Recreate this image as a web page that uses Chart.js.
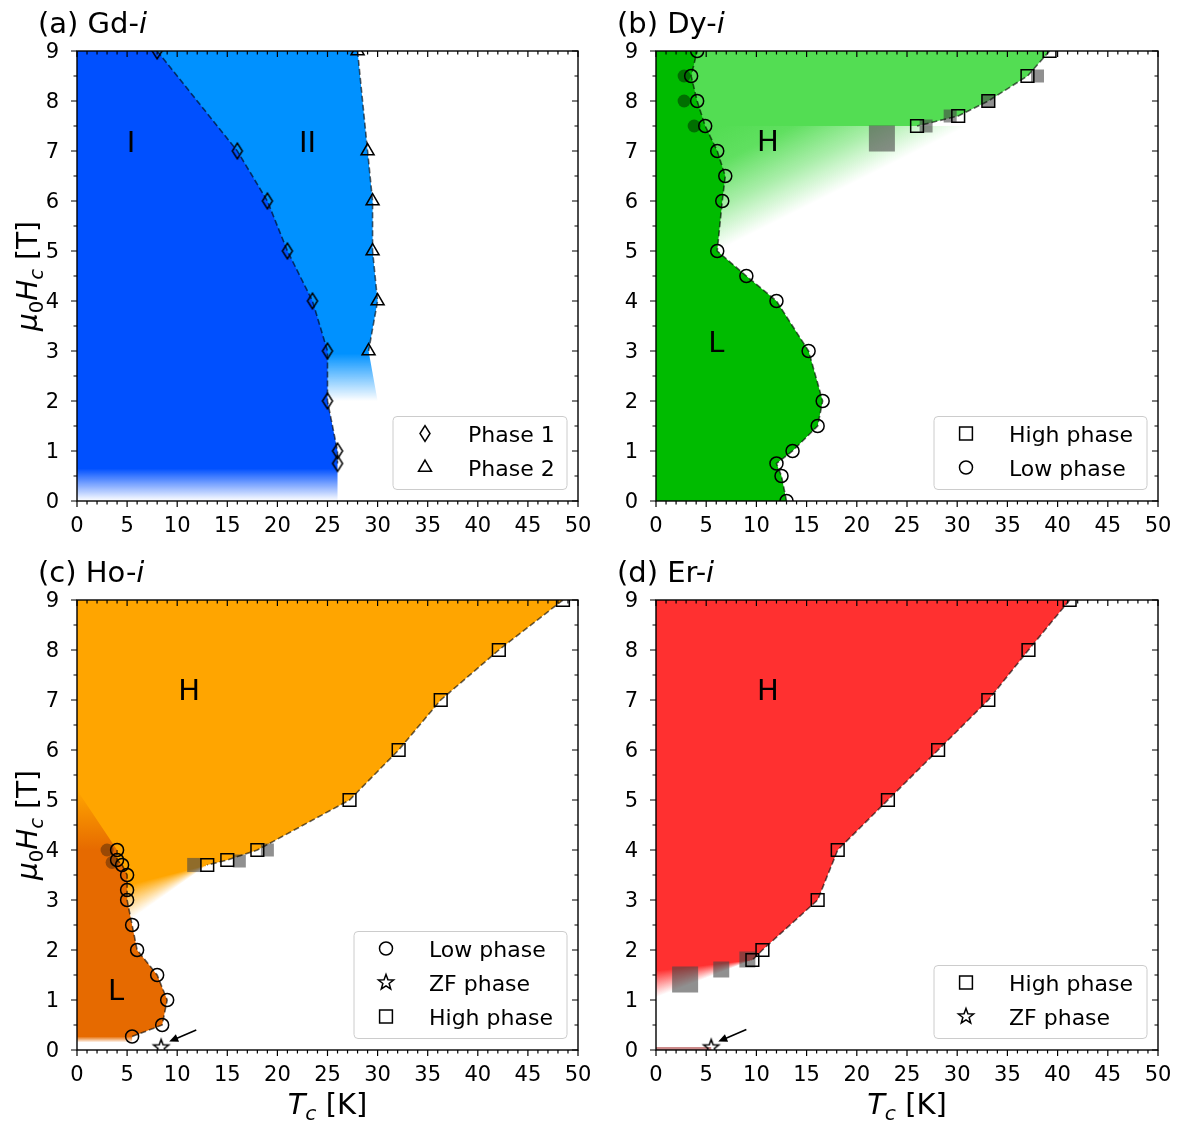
<!DOCTYPE html>
<html>
<head>
<meta charset="utf-8">
<title>Phase diagrams</title>
<script src="https://cdn.jsdelivr.net/npm/chart.js@4.4.1/dist/chart.umd.min.js"></script>
<style>
  html, body { margin: 0; padding: 0; background: #fff; }
  #fig { position: relative; width: 1177px; height: 1121px; overflow: hidden; }
  #fig canvas { position: absolute; }
</style>
</head>
<body>
<div id="fig">
  <canvas id="panelA" width="600" height="572" style="left:0px;top:0px"></canvas>
  <canvas id="panelB" width="598" height="572" style="left:579px;top:0px"></canvas>
  <canvas id="panelC" width="600" height="572" style="left:0px;top:549px"></canvas>
  <canvas id="panelD" width="598" height="572" style="left:579px;top:549px"></canvas>
</div>
<script>
const FONT = '"DejaVu Sans", sans-serif';
Chart.defaults.font.family = FONT;
Chart.defaults.color = '#000';

// ---- (a) Gd-i ----
const gdPhase1T = [8.0, 16.0, 19.0, 21.0, 23.5, 25.0, 25.0, 26.0, 26.0];
const gdPhase1H = [9, 7, 6, 5, 4, 3, 2, 1, 0.75];
const gdPhase2T = [28.0, 29.0, 29.5, 29.5, 30.0, 29.1];
const gdPhase2H = [9, 7, 6, 5, 4, 3];
const gdRegion1TailT = [26.0];
const gdRegion1TailH = [0];
const gdRegion2TailT = [30.0];
const gdRegion2TailH = [2.0];

// ---- (b) Dy-i ----
const dyLowT = [13.0, 12.5, 12.0, 13.6, 16.1, 16.6, 15.2, 12.0, 9.0, 6.1, 6.6, 6.9, 6.1, 4.9, 4.1, 3.5, 4.1];
const dyLowH = [0, 0.5, 0.75, 1, 1.5, 2, 3, 4, 4.5, 5, 6, 6.5, 7, 7.5, 8, 8.5, 9];
const dyHighT = [39.2, 37.0, 33.1, 30.1, 26.0];
const dyHighH = [9, 8.5, 8.0, 7.7, 7.5];
const dyShadowT = [3.8, 2.8, 2.8];
const dyShadowH = [7.5, 8.0, 8.5];
const dyGhostT = [22.5, 26.9, 29.3, 33.1, 38.0];
const dyGhostH = [7.25, 7.5, 7.7, 8.0, 8.5];
const dyFadeT = [31.0, 6.1];
const dyFadeH = [7.5, 5.0];

// ---- (c) Ho-i ----
const hoLowT = [5.5, 8.5, 9.0, 8.0, 6.0, 5.5, 5.0, 5.0, 5.0, 4.5, 4.0, 4.0];
const hoLowH = [0.27, 0.5, 1.0, 1.5, 2.0, 2.5, 3.0, 3.2, 3.5, 3.7, 3.8, 4.0];
const hoHighT = [48.5, 42.1, 36.3, 32.1, 27.2, 18.0, 15.0, 13.0];
const hoHighH = [9, 8, 7, 6, 5, 4.0, 3.8, 3.7];
const hoZfT = [8.4];
const hoZfH = [0.05];
const hoShadowT = [3.0, 3.5];
const hoShadowH = [4.0, 3.75];
const hoGhostT = [11.7, 16.2, 19.0];
const hoGhostH = [3.7, 3.78, 4.0];
const hoHighTailT = [5.3];
const hoHighTailH = [2.6];
const hoLowBaseT = [5.5];
const hoLowBaseH = [0.15];
const hoLowTopT = [0];
const hoLowTopH = [5.2];
const hoArrow = [11.9, 0.4, 9.2, 0.17];

// ---- (d) Er-i ----
const erHighT = [41.2, 37.1, 33.1, 28.1, 23.1, 18.1, 16.1, 10.6, 9.6];
const erHighH = [9, 8, 7, 6, 5, 4, 3, 2, 1.8];
const erZfT = [5.5];
const erZfH = [0.05];
const erGhostT = [2.9, 6.5, 9.1];
const erGhostH = [1.41, 1.61, 1.81];
const erHighTailT = [0];
const erHighTailH = [1.05];
const erZfStripT = [5.5, 5.5];
const erZfStripH = [0.06, 0];
const erArrow = [9.0, 0.41, 6.2, 0.17];

// axis ticks
const xTickStep = 5, xMinorStep = 1;
const yTickStep = 1, yMinorStep = 0.5;

// colours
const BLUE_DARK = [0, 80, 255];
const BLUE_LIGHT = [0, 145, 255];
const GREEN_DARK = [0, 187, 0];
const GREEN_LIGHT = [83, 221, 83];
const ORANGE = [255, 165, 0];
const ORANGE_DARK = [230, 106, 0];
const RED = [255, 48, 48];
const GHOST = 'rgba(70,70,70,0.6)';

function rgba(c, a) { return 'rgba(' + c[0] + ',' + c[1] + ',' + c[2] + ',' + a + ')'; }
function pts(T, H) { return T.map((t, i) => ({ x: t, y: H[i] })); }

// markers
function drawMarker(ctx, kind, x, y) {
  ctx.beginPath();
  if (kind === 'circle') {
    ctx.arc(x, y, 6.5, 0, 2 * Math.PI);
  } else if (kind === 'square') {
    ctx.rect(x - 6.4, y - 6.4, 12.8, 12.8);
  } else if (kind === 'triangle') {
    const r = 7.5;
    ctx.moveTo(x, y - r);
    ctx.lineTo(x + 0.866 * r, y + 0.5 * r);
    ctx.lineTo(x - 0.866 * r, y + 0.5 * r);
    ctx.closePath();
  } else if (kind === 'diamond') {
    const h = 7.8, w = 5.0;
    ctx.moveTo(x, y - h);
    ctx.lineTo(x + w, y);
    ctx.lineTo(x, y + h);
    ctx.lineTo(x - w, y);
    ctx.closePath();
  } else if (kind === 'star') {
    const ro = 8, ri = 3.3;
    for (let k = 0; k < 10; k++) {
      const r = k % 2 ? ri : ro;
      const ang = -Math.PI / 2 + k * Math.PI / 5;
      const px = x + r * Math.cos(ang), py = y + r * Math.sin(ang);
      if (k === 0) ctx.moveTo(px, py); else ctx.lineTo(px, py);
    }
    ctx.closePath();
  }
  ctx.stroke();
}

function markerImage(kind) {
  const c = document.createElement('canvas');
  c.width = 24; c.height = 24;
  const g = c.getContext('2d');
  g.strokeStyle = '#000';
  g.lineWidth = 1.5;
  drawMarker(g, kind, 12, 12);
  return c;
}
const DIAMOND = markerImage('diamond');
const STAR = markerImage('star');

// fills
function verticalFade(c, stops) {
  return function(context) {
    const chart = context.chart;
    if (!chart.chartArea) return rgba(c, 1);
    const ys = chart.scales.y;
    const p0 = ys.getPixelForValue(stops[0][0]);
    const p1 = ys.getPixelForValue(stops[stops.length - 1][0]);
    const g = chart.ctx.createLinearGradient(0, p0, 0, p1);
    stops.forEach(s => g.addColorStop((ys.getPixelForValue(s[0]) - p0) / (p1 - p0), rgba(c, s[1])));
    return g;
  };
}

// transparent on the line p0-p1, full colour `depth` px above it
function lineFade(c, t0, h0, t1, h1, depth) {
  return function(context) {
    const chart = context.chart;
    if (!chart.chartArea) return rgba(c, 1);
    const xs = chart.scales.x, ys = chart.scales.y;
    const x0 = xs.getPixelForValue(t0), y0 = ys.getPixelForValue(h0);
    const x1 = xs.getPixelForValue(t1), y1 = ys.getPixelForValue(h1);
    let nx = y1 - y0, ny = -(x1 - x0);
    const len = Math.hypot(nx, ny);
    nx /= len; ny /= len;
    if (ny > 0) { nx = -nx; ny = -ny; }
    const g = chart.ctx.createLinearGradient(x0, y0, x0 + nx * depth, y0 + ny * depth);
    g.addColorStop(0, rgba(c, 0));
    g.addColorStop(0.35, rgba(c, 0.5));
    g.addColorStop(0.7, rgba(c, 0.92));
    g.addColorStop(1, rgba(c, 1));
    return g;
  };
}

// solid above the apex, fading out towards the ray apex -> tail
function wedgeFade(c, apexT, apexH, tailT, tailH, frac) {
  return function(context) {
    const chart = context.chart;
    if (!chart.chartArea) return rgba(c, 1);
    const xs = chart.scales.x, ys = chart.scales.y;
    const ax = xs.getPixelForValue(apexT), ay = ys.getPixelForValue(apexH);
    const tx = xs.getPixelForValue(tailT), ty = ys.getPixelForValue(tailH);
    const ang = Math.atan2(ty - ay, tx - ax);
    const pad = 0.08;
    const span = Math.PI - ang;
    const g = chart.ctx.createConicGradient(ang - pad, ax, ay);
    g.addColorStop(0, rgba(c, 0));
    g.addColorStop(pad / (2 * Math.PI), rgba(c, 0));
    g.addColorStop((pad + span * frac) / (2 * Math.PI), rgba(c, 1));
    g.addColorStop(1, rgba(c, 1));
    return g;
  };
}

function fillSet(data, color, order) {
  return {
    data: data, showLine: true, fill: { value: 0 }, backgroundColor: color,
    borderColor: 'rgba(0,0,0,0)', borderWidth: 0, pointRadius: 0, tension: 0, order: order
  };
}
function markSet(data, style, extra) {
  return Object.assign({
    data: data, showLine: true, fill: false, tension: 0,
    borderColor: 'rgba(0,0,0,0.6)', borderWidth: 1.6, borderDash: [6, 3],
    pointStyle: style, pointRadius: 6.5,
    pointBackgroundColor: 'rgba(0,0,0,0)', pointBorderColor: '#000', pointBorderWidth: 1.5,
    order: 1
  }, extra || {});
}
function blobSet(data, style, radius, color) {
  return {
    data: data, showLine: false, fill: false,
    pointStyle: style, pointRadius: radius,
    pointBackgroundColor: color, pointBorderWidth: 0, pointBorderColor: 'rgba(0,0,0,0)',
    order: 3
  };
}

// text with italics / subscripts
function richFont(style, size) {
  const it = style.indexOf('i') >= 0;
  const sub = style.indexOf('s') >= 0;
  return { font: (it ? 'italic ' : '') + (sub ? size * 0.7 : size) + 'px ' + FONT, dy: sub ? size * 0.2 : 0 };
}
function richWidth(ctx, parts, size) {
  let w = 0;
  parts.forEach(p => { ctx.font = richFont(p[1], size).font; w += ctx.measureText(p[0]).width; });
  return w;
}
function drawRich(ctx, parts, x, y, size) {
  parts.forEach(p => {
    const f = richFont(p[1], size);
    ctx.font = f.font;
    ctx.fillText(p[0], x, y + f.dy);
    x += ctx.measureText(p[0]).width;
  });
}

function roundRectPath(ctx, x, y, w, h, r) {
  ctx.beginPath();
  ctx.moveTo(x + r, y);
  ctx.lineTo(x + w - r, y);
  ctx.arcTo(x + w, y, x + w, y + r, r);
  ctx.lineTo(x + w, y + h - r);
  ctx.arcTo(x + w, y + h, x + w - r, y + h, r);
  ctx.lineTo(x + r, y + h);
  ctx.arcTo(x, y + h, x, y + h - r, r);
  ctx.lineTo(x, y + r);
  ctx.arcTo(x, y, x + r, y, r);
  ctx.closePath();
}

function decorPlugin(p) {
  return {
    id: 'decor',
    afterDatasetsDraw(chart) {
      const ctx = chart.ctx, a = chart.chartArea;
      const xs = chart.scales.x, ys = chart.scales.y;
      ctx.save();

      // region labels
      ctx.fillStyle = '#000';
      ctx.font = '29px ' + FONT;
      ctx.textAlign = 'center';
      ctx.textBaseline = 'alphabetic';
      p.labels.forEach((s, i) => {
        ctx.fillText(s, xs.getPixelForValue(p.labelT[i]), ys.getPixelForValue(p.labelH[i]) + 10.5);
      });

      // arrow pointing at the zero-field point
      if (p.arrow) {
        const x0 = xs.getPixelForValue(p.arrow[0]), y0 = ys.getPixelForValue(p.arrow[1]);
        const x1 = xs.getPixelForValue(p.arrow[2]), y1 = ys.getPixelForValue(p.arrow[3]);
        const ang = Math.atan2(y1 - y0, x1 - x0);
        const hl = 9, hw = 4;
        ctx.strokeStyle = '#000';
        ctx.lineWidth = 1.6;
        ctx.beginPath();
        ctx.moveTo(x0, y0);
        ctx.lineTo(x1 - Math.cos(ang) * hl * 0.8, y1 - Math.sin(ang) * hl * 0.8);
        ctx.stroke();
        ctx.fillStyle = '#000';
        ctx.beginPath();
        ctx.moveTo(x1, y1);
        ctx.lineTo(x1 - Math.cos(ang) * hl - Math.sin(ang) * hw, y1 - Math.sin(ang) * hl + Math.cos(ang) * hw);
        ctx.lineTo(x1 - Math.cos(ang) * hl + Math.sin(ang) * hw, y1 - Math.sin(ang) * hl - Math.cos(ang) * hw);
        ctx.closePath();
        ctx.fill();
      }

      // ticks: out on bottom/left, in on top/right
      ctx.strokeStyle = '#000';
      ctx.lineWidth = 1.2;
      ctx.beginPath();
      for (let v = xs.min; v <= xs.max + 1e-9; v += xMinorStep) {
        const major = Math.abs(v / xTickStep - Math.round(v / xTickStep)) < 1e-9;
        const len = major ? 6 : 3.5;
        const px = xs.getPixelForValue(v);
        ctx.moveTo(px, a.bottom); ctx.lineTo(px, a.bottom + len);
        ctx.moveTo(px, a.top); ctx.lineTo(px, a.top + len);
      }
      for (let v = ys.min; v <= ys.max + 1e-9; v += yMinorStep) {
        const major = Math.abs(v / yTickStep - Math.round(v / yTickStep)) < 1e-9;
        const len = major ? 6 : 3.5;
        const py = ys.getPixelForValue(v);
        ctx.moveTo(a.left, py); ctx.lineTo(a.left - len, py);
        ctx.moveTo(a.right, py); ctx.lineTo(a.right - len, py);
      }
      ctx.stroke();

      // frame
      ctx.lineWidth = 1.4;
      ctx.strokeRect(a.left, a.top, a.right - a.left, a.bottom - a.top);

      // legend
      const lg = p.legend;
      const n = lg.entries.length;
      const bw = lg.width, bh = 34 * n + 5;
      const bx = a.right - 11 - bw, by = a.bottom - 11.5 - bh;
      roundRectPath(ctx, bx, by, bw, bh, 4);
      ctx.fillStyle = 'rgba(255,255,255,0.8)';
      ctx.fill();
      ctx.strokeStyle = '#cccccc';
      ctx.lineWidth = 1;
      ctx.stroke();
      lg.entries.forEach((e, i) => {
        const cy = by + 17 + 34 * i;
        ctx.strokeStyle = '#000';
        ctx.lineWidth = 1.5;
        drawMarker(ctx, e[0], bx + 32, cy);
        ctx.fillStyle = '#000';
        ctx.font = '22px ' + FONT;
        ctx.textAlign = 'left';
        ctx.fillText(e[1], bx + 75, cy + 8);
      });

      // titles
      ctx.fillStyle = '#000';
      ctx.textAlign = 'left';
      drawRich(ctx, p.title, a.left - 39, a.top - 18, 29);
      if (p.xLabel) {
        const parts = [['T', 'i'], ['c', 'is'], [' [K]', '']];
        const w = richWidth(ctx, parts, 29);
        drawRich(ctx, parts, (a.left + a.right) / 2 - w / 2, a.bottom + 64, 29);
      }
      if (p.yLabel) {
        const parts = [['\u03bc', 'i'], ['0', 's'], ['H', 'i'], ['c', 'is'], [' [T]', '']];
        const w = richWidth(ctx, parts, 28);
        ctx.translate(37, (a.top + a.bottom) / 2);
        ctx.rotate(-Math.PI / 2);
        drawRich(ctx, parts, -w / 2, 0, 28);
      }
      ctx.restore();
    }
  };
}

function makePanel(id, datasets, p, padRight) {
  return new Chart(document.getElementById(id), {
    type: 'line',
    data: { datasets: datasets },
    options: {
      responsive: false,
      animation: false,
      events: [],
      indexAxis: 'y',
      layout: { autoPadding: false, padding: { top: 51, right: padRight, left: 0, bottom: 0 } },
      plugins: { legend: { display: false }, tooltip: { enabled: false }, title: { display: false } },
      scales: {
        x: {
          type: 'linear', position: 'bottom', min: 0, max: 50,
          grid: { display: false }, border: { display: false },
          ticks: { stepSize: xTickStep, padding: 5, color: '#000', maxRotation: 0, autoSkip: false, font: { family: FONT, size: 21 } },
          afterFit(s) { s.height = 71; s.paddingLeft = 0; s.paddingRight = 0; }
        },
        y: {
          type: 'linear', position: 'left', min: 0, max: 9,
          grid: { display: false }, border: { display: false },
          ticks: { stepSize: yTickStep, padding: 10, labelOffset: 2, color: '#000', autoSkip: false, font: { family: FONT, size: 21 } },
          afterFit(s) { s.width = 77; s.paddingTop = 0; s.paddingBottom = 0; }
        }
      }
    },
    plugins: [decorPlugin(p)]
  });
}

// (a)
makePanel('panelA', [
  markSet(pts(gdPhase1T, gdPhase1H), DIAMOND),
  markSet(pts(gdPhase2T, gdPhase2H), 'triangle', { pointRadius: 7.5 }),
  fillSet(pts(gdPhase1T.concat(gdRegion1TailT), gdPhase1H.concat(gdRegion1TailH)),
    verticalFade(BLUE_DARK, [[0, 0], [0.65, 1]]), 5),
  fillSet(pts(gdPhase2T.concat(gdRegion2TailT), gdPhase2H.concat(gdRegion2TailH)),
    verticalFade(BLUE_LIGHT, [[2.0, 0], [2.95, 1]]), 6)
], {
  title: [['(a) Gd-', ''], ['i', 'i']], yLabel: true, xLabel: false,
  labels: ['I', 'II'], labelT: [5.4, 23.0], labelH: [7.2, 7.2],
  legend: { width: 174, entries: [['diamond', 'Phase 1'], ['triangle', 'Phase 2']] },
  arrow: null
}, 22);

// (b)
makePanel('panelB', [
  markSet(pts(dyLowT, dyLowH), 'circle'),
  markSet(pts(dyHighT, dyHighH), 'rect', { pointRadius: 9 }),
  blobSet(pts(dyGhostT, dyGhostH), 'rect', [18.4, 9.2, 9.2, 9.2, 9.2], GHOST),
  blobSet(pts(dyShadowT, dyShadowH), 'circle', 6.5, 'rgba(0,50,0,0.55)'),
  fillSet(pts(dyLowT, dyLowH), rgba(GREEN_DARK, 1), 4),
  fillSet(pts(dyHighT, dyHighH), rgba(GREEN_LIGHT, 1), 5),
  fillSet(pts(dyFadeT, dyFadeH),
    lineFade(GREEN_LIGHT, dyFadeT[0], dyFadeH[0], dyFadeT[1], dyFadeH[1], 110), 6)
], {
  title: [['(b) Dy-', ''], ['i', 'i']], yLabel: false, xLabel: false,
  labels: ['H', 'L'], labelT: [11.15, 6.0], labelH: [7.22, 3.2],
  legend: { width: 213, entries: [['square', 'High phase'], ['circle', 'Low phase']] },
  arrow: null
}, 19);

// (c)
makePanel('panelC', [
  markSet(pts(hoLowT, hoLowH), 'circle'),
  markSet(pts(hoHighT, hoHighH), 'rect', { pointRadius: 9 }),
  markSet(pts(hoZfT, hoZfH), STAR, { showLine: false }),
  blobSet(pts(hoGhostT, hoGhostH), 'rect', [10, 9.2, 9.2], GHOST),
  blobSet(pts(hoShadowT, hoShadowH), 'circle', 6.5, 'rgba(60,30,10,0.45)'),
  fillSet(pts(hoLowBaseT.concat(hoLowT, hoLowTopT), hoLowBaseH.concat(hoLowH, hoLowTopH)),
    verticalFade(ORANGE_DARK, [[0.15, 0], [0.27, 1], [4.0, 1], [5.2, 0]]), 5),
  fillSet(pts(hoHighT.concat(hoHighTailT), hoHighH.concat(hoHighTailH)),
    wedgeFade(ORANGE, hoHighT[hoHighT.length - 1], hoHighH[hoHighH.length - 1], hoHighTailT[0], hoHighTailH[0], 0.6), 6)
], {
  title: [['(c) Ho-', ''], ['i', 'i']], yLabel: true, xLabel: true,
  labels: ['H', 'L'], labelT: [11.2, 3.9], labelH: [7.22, 1.22],
  legend: { width: 213, entries: [['circle', 'Low phase'], ['star', 'ZF phase'], ['square', 'High phase']] },
  arrow: hoArrow
}, 22);

// (d)
makePanel('panelD', [
  markSet(pts(erHighT, erHighH), 'rect', { pointRadius: 9 }),
  markSet(pts(erZfT, erZfH), STAR, { showLine: false }),
  blobSet(pts(erGhostT, erGhostH), 'rect', [18.4, 11.3, 11.3], GHOST),
  fillSet(pts(erZfStripT, erZfStripH), 'rgba(170,60,60,0.6)', 5),
  fillSet(pts(erHighT.concat(erHighTailT), erHighH.concat(erHighTailH)),
    wedgeFade(RED, erHighT[erHighT.length - 1], erHighH[erHighH.length - 1], erHighTailT[0], erHighTailH[0], 0.7), 6)
], {
  title: [['(d) Er-', ''], ['i', 'i']], yLabel: false, xLabel: true,
  labels: ['H'], labelT: [11.15], labelH: [7.22],
  legend: { width: 213, entries: [['square', 'High phase'], ['star', 'ZF phase']] },
  arrow: erArrow
}, 19);
</script>
</body>
</html>
